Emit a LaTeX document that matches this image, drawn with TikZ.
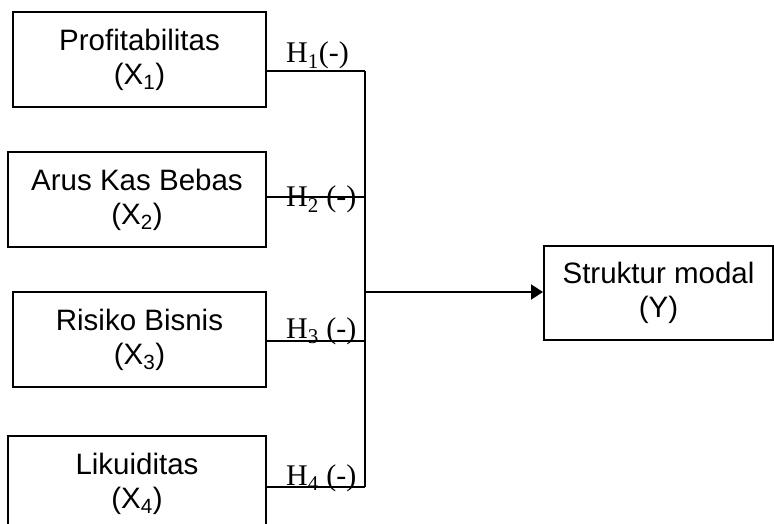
\documentclass[tikz,border=0pt]{standalone}
\usepackage{fontspec}
\setmainfont{Liberation Sans}
\newfontfamily\timesfont{Liberation Serif}
\usetikzlibrary{arrows.meta}
\begin{document}
\begin{tikzpicture}[x=1pt,y=-1pt,
  varbox/.style={draw, line width=2pt, inner sep=0pt, align=center,
    minimum width=253pt, minimum height=95pt,
    font=\fontsize{29.5}{34}\selectfont},
  conn/.style={line width=2pt},
  trunk/.style={line width=2.6pt},
  hlabel/.style={font=\timesfont\fontsize{30}{33}\selectfont, inner sep=0pt, anchor=base west}]
\useasboundingbox (0,0) rectangle (774,524);
\node[varbox] (x1) at (139.5,59.5) {Profitabilitas\\(X\textsubscript{1})};
\node[varbox, minimum width=258pt] (x2) at (137,199.5) {Arus Kas Bebas\\(X\textsubscript{2})};
\node[varbox] (x3) at (139.5,339.5) {Risiko Bisnis\\(X\textsubscript{3})};
\node[varbox, minimum width=258pt] (x4) at (137,483.5) {Likuiditas\\(X\textsubscript{4})};
\node[varbox, minimum width=229pt, minimum height=94pt] (y) at (658.5,293) {Struktur modal\\(Y)};
\coordinate (j1) at (365,71);
\coordinate (j2) at (365,197);
\coordinate (j3) at (365,341);
\coordinate (j4) at (365,487);
\coordinate (jm) at (365,292);
\draw[conn] (x1.east |- j1) -- (j1);
\draw[conn] (x2.east |- j2) -- (j2);
\draw[conn] (x3.east |- j3) -- (j3);
\draw[conn] (x4.east |- j4) -- (j4);
\draw[trunk] (j1) -- (j4);
\draw[conn, -{Triangle[length=12pt,width=15pt]}] (jm) -- (jm -| y.west);
\node[hlabel] (h1) at (286,63) {H\textsubscript{1}(-)};
\node[hlabel] (h2) at (286,207) {H\textsubscript{2} (-)};
\node[hlabel] (h3) at (286,338) {H\textsubscript{3} (-)};
\node[hlabel] (h4) at (286,485) {H\textsubscript{4} (-)};
\end{tikzpicture}
\end{document}
